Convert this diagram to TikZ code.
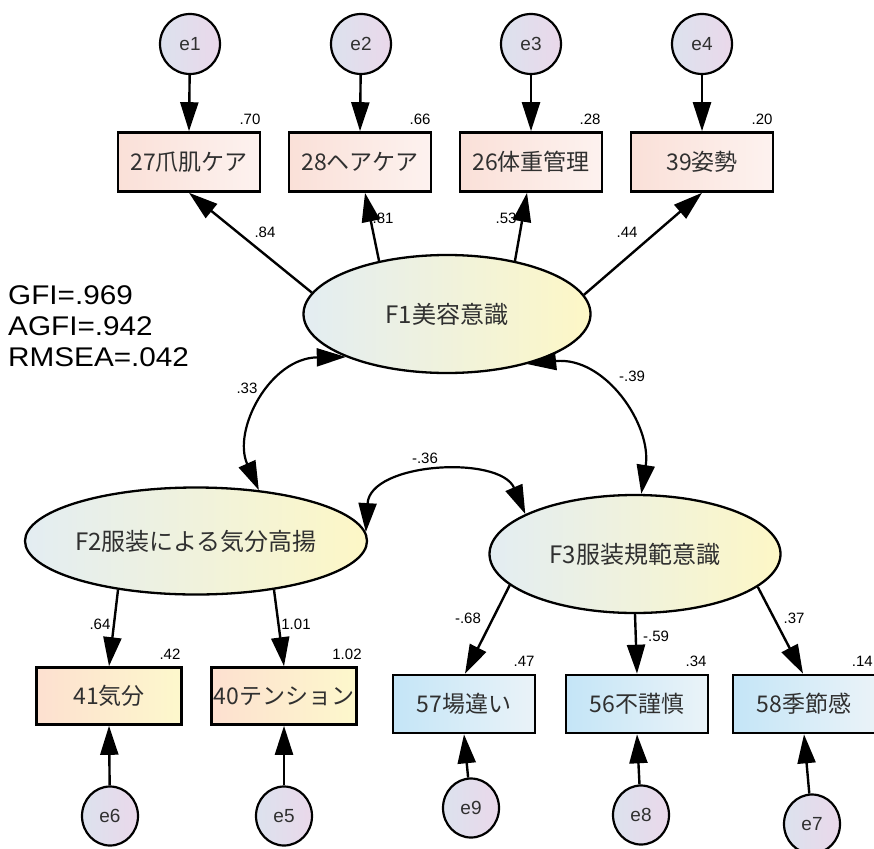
\documentclass[tikz,border=0pt]{standalone}
\usepackage{fontspec}
\setmainfont{Liberation Sans}
\newfontfamily\jp{Noto Sans CJK JP}
\newfontfamily\statfont[FakeStretch=1.1]{Liberation Sans}
\usetikzlibrary{arrows.meta,shapes.geometric}
\definecolor{errA}{HTML}{DCE2EE}
\definecolor{errB}{HTML}{EAD8EA}
\definecolor{topA}{HTML}{FAE0D8}
\definecolor{topB}{HTML}{FDF2EF}
\definecolor{lowA}{HTML}{FDE0D0}
\definecolor{lowB}{HTML}{FDF8CC}
\definecolor{bluA}{HTML}{C4E5F7}
\definecolor{bluB}{HTML}{EAF3F8}
\definecolor{latA}{HTML}{E3EDF2}
\definecolor{latB}{HTML}{FDF7C6}
\definecolor{txt}{HTML}{303030}
\tikzset{
  err/.style={circle, draw, line width=2.2pt, minimum size=60pt, inner sep=0pt,
    left color=errA, right color=errB, text=txt, font=\fontsize{19}{19}\selectfont},
  errlow/.style={ellipse, draw, line width=2.2pt, minimum width=56pt, minimum height=59pt, inner sep=0pt,
    left color=errA, right color=errB, text=txt, font=\fontsize{19}{19}\selectfont},
  obs/.style={rectangle, draw, line width=2.6pt, minimum width=142pt, minimum height=59pt, inner sep=0pt,
    text=txt, font=\jp\fontsize{23}{23}\selectfont},
  obstop/.style={obs, left color=topA, right color=topB},
  obsf2/.style={obs, left color=lowA, right color=lowB, minimum width=145pt, minimum height=57pt},
  obsf3/.style={obs, left color=bluA, right color=bluB, minimum height=58pt},
  lat/.style={ellipse, draw, line width=2.3pt, inner sep=0pt,
    left color=latA, right color=latB, text=txt, font=\jp\fontsize{24}{24}\selectfont},
  arr/.style={-{Triangle[length=29pt,width=18pt]}, line width=2.4pt},
  biarr/.style={{Triangle[length=29pt,width=18pt]}-{Triangle[length=29pt,width=18pt]}, line width=2.2pt},
  lbl/.style={inner sep=0pt, text=black, font=\fontsize{15}{15}\selectfont}
}
\begin{document}
\begin{tikzpicture}[x=1pt,y=-1pt]
\useasboundingbox[fill=white] (0,0) rectangle (874,848);
% error terms top
\node[err] (e1) at (190,44) {e1};
\node[err] (e2) at (361,44) {e2};
\node[err] (e3) at (531,44) {e3};
\node[err] (e4) at (702,44) {e4};
% top observed
\node[obstop] (b27) at (189,162) {27爪肌ケア};
\node[obstop] (b28) at (360,162) {28ヘアケア};
\node[obstop] (b26) at (531,162) {26体重管理};
\node[obstop] (b39) at (702,162) {39姿勢};
% latent
\node[lat, minimum width=287pt, minimum height=118pt] (F1) at (447,314) {F1美容意識};
\node[lat, minimum width=294pt, minimum height=107pt] (F2) at (196,541) {F2服装による気分高揚};
\node[lat, minimum width=291pt, minimum height=118pt] (F3) at (635,554) {F3服装規範意識};
% bottom observed
\node[obsf2] (b41) at (109,696) {41気分};
\node[obsf2] (b40) at (284,696) {40テンション};
\node[obsf3] (b57) at (464,704) {57場違い};
\node[obsf3] (b56) at (637,704) {56不謹慎};
\node[obsf3] (b58) at (804,704) {58季節感};
% error terms bottom
\node[errlow] (e6) at (110,816) {e6};
\node[errlow] (e5) at (284,816) {e5};
\node[errlow] (e9) at (471,808) {e9};
\node[errlow] (e8) at (641,815) {e8};
\node[errlow] (e7) at (812,824) {e7};
% error arrows
\draw[arr] (e1) -- (b27.north);
\draw[arr] (e2) -- (b28.north);
\draw[arr] (e3) -- (b26.north);
\draw[arr] (e4) -- (b39.north);
\draw[arr] (e6) -- (b41.south);
\draw[arr] (e5) -- (b40.south);
\draw[arr] (e9) -- (b57.south);
\draw[arr] (e8) -- (b56.south);
\draw[arr] (e7) -- (b58.south);
% loadings
\draw[arr] (F1.171.3) -- (b27.south);
\draw[arr] (F1.142.7) -- ([xshift=5pt]b28.south);
\draw[arr] (F1.38) -- ([xshift=-4pt]b26.south);
\draw[arr] (F1.8.8) -- (b39.south);
\draw[arr] (F2.212.9) -- (b41.north);
\draw[arr] (F2.-32.4) -- (b40.north);
\draw[arr] (F3.194.7) -- ([xshift=1pt]b57.north);
\draw[arr] (F3.-90) -- (b56.north);
\draw[arr] (F3.-15.4) -- ([xshift=-1pt]b58.north);
% covariances
\draw[biarr] (F1.203.3) .. controls (270,358) and (232,430) .. (F2.39.5);
\draw[biarr] (F1.-32.5) .. controls (605,356) and (652,425) .. (F3.84.4);
\draw[biarr] (F2.3) .. controls (370,462) and (500,455) .. (F3.160.1);
% fit indices
\node[anchor=west, align=left, inner sep=0pt, font=\statfont\fontsize{27}{31}\selectfont] (fit) at (8,326)
  {GFI=.969\\AGFI=.942\\RMSEA=.042};
% labels
\node[lbl] (l84) at (265,232) {.84};
\node[lbl] (l81) at (383,218) {.81};
\node[lbl] (l53) at (506,218) {.53};
\node[lbl] (l44) at (627,232) {.44};
\node[lbl] (l70) at (250,119) {.70};
\node[lbl] (l66) at (420,119) {.66};
\node[lbl] (l28) at (590,119) {.28};
\node[lbl] (l20) at (762,119) {.20};
\node[lbl] (l33) at (247,388) {.33};
\node[lbl] (l39) at (632,376) {-.39};
\node[lbl] (l36) at (425,458) {-.36};
\node[lbl] (l64) at (100,624) {.64};
\node[lbl] (l101) at (296,624) {1.01};
\node[lbl] (l42) at (170,654) {.42};
\node[lbl] (l102) at (347,654) {1.02};
\node[lbl] (l68) at (468,618) {-.68};
\node[lbl] (l59) at (656,636) {-.59};
\node[lbl] (l37) at (794,618) {.37};
\node[lbl] (l47) at (524,661) {.47};
\node[lbl] (l34) at (696,661) {.34};
\node[lbl, anchor=east] (l14) at (873,661) {.14};
\end{tikzpicture}
\end{document}
